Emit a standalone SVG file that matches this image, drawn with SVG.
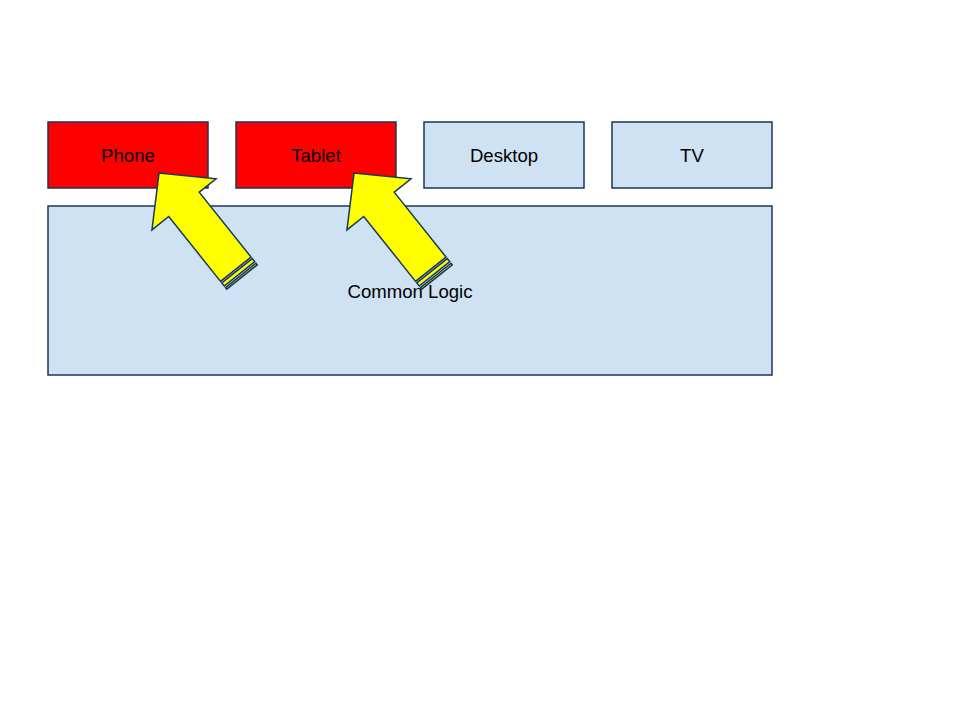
<svg xmlns="http://www.w3.org/2000/svg" width="960" height="720" viewBox="0 0 960 720">
<style>
.box{stroke:#17375e;stroke-width:1.5}
.blue{fill:#cfe2f3}
.red{fill:#ff0000}
.lbl{font-family:"Liberation Sans",Arial,sans-serif;font-size:18.6px;fill:#000;text-anchor:middle;dominant-baseline:central}
.arr{fill:#ffff00;stroke:#17375e;stroke-width:1.5;stroke-linejoin:miter}
</style>
<defs>
<g id="stripedArrow">
<rect class="arr" x="0" y="-19.5" width="2" height="39"/>
<rect class="arr" x="4" y="-19.5" width="4" height="39"/>
<polygon class="arr" points="10,-19.5 93,-19.5 93,-41 133,0 93,41 93,19.5 10,19.5"/>
</g>
</defs>
<rect width="960" height="720" fill="#fff"/>
<g id="common-logic">
<rect class="box blue" x="48" y="206" width="724" height="169"/>
<text class="lbl" x="410" y="291">Common Logic</text>
</g>
<g id="phone">
<rect class="box red" x="48" y="122" width="160" height="66"/>
<text class="lbl" x="128" y="155">Phone</text>
</g>
<g id="tablet">
<rect class="box red" x="236" y="122" width="160" height="66"/>
<text class="lbl" x="316" y="155">Tablet</text>
</g>
<g id="desktop">
<rect class="box blue" x="424" y="122" width="160" height="66"/>
<text class="lbl" x="504" y="155">Desktop</text>
</g>
<g id="tv">
<rect class="box blue" x="612" y="122" width="160" height="66"/>
<text class="lbl" x="692" y="155">TV</text>
</g>
<g id="connectors">
<use href="#stripedArrow" transform="translate(242,277) rotate(-128.6)"/>
<use href="#stripedArrow" transform="translate(437,277) rotate(-128.6)"/>
</g>
</svg>
